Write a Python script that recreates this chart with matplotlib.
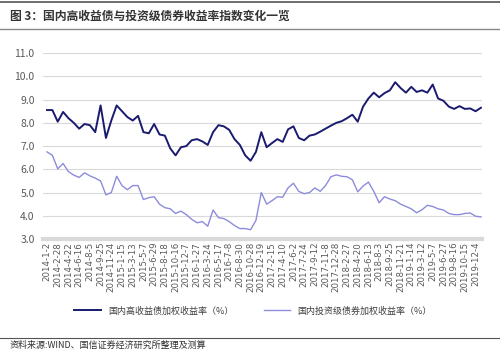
import matplotlib.pyplot as plt
import numpy as np

plt.rcParams['font.family'] = ['Noto Sans CJK SC', 'DejaVu Sans']

# tick labels, one every two samples
tick_labels = ['2014-1-2', '2014-2-28', '2014-4-22', '2014-6-16', '2014-8-5', '2014-9-25',
               '2014-11-24', '2015-1-15', '2015-3-13', '2015-5-7', '2015-6-29', '2015-8-18',
               '2015-10-16', '2015-12-7', '2016-1-27', '2016-3-24', '2016-5-17', '2016-7-8',
               '2016-8-30', '2016-10-28', '2016-12-19', '2017-2-15', '2017-4-10', '2017-6-2',
               '2017-7-24', '2017-9-12', '2017-11-8', '2017-12-28', '2018-2-27', '2018-4-20',
               '2018-6-13', '2018-8-3', '2018-9-25', '2018-11-21', '2019-1-14', '2019-3-12',
               '2019-5-7', '2019-6-27', '2019-8-16', '2019-10-15', '2019-12-4']

# 国内高收益债加权收益率 (%)
hy_yield = [8.55, 8.55, 8.05, 8.47, 8.2, 8.0, 7.75, 7.95, 7.9, 7.6,
            8.75, 7.35, 8.1, 8.75, 8.5, 8.25, 8.1, 8.3, 7.6, 7.55,
            7.95, 7.5, 7.45, 6.9, 6.6, 6.95, 7.0, 7.25, 7.3, 7.2,
            7.05, 7.6, 7.9, 7.85, 7.7, 7.3, 7.05, 6.6, 6.37, 6.75,
            7.6, 6.95, 7.13, 7.3, 7.18, 7.72, 7.85, 7.35, 7.25, 7.45,
            7.5, 7.62, 7.75, 7.88, 8.0, 8.07, 8.2, 8.35, 8.05, 8.7,
            9.05, 9.3, 9.1, 9.28, 9.4, 9.75, 9.5, 9.3, 9.55, 9.33,
            9.4, 9.3, 9.65, 9.05, 8.95, 8.7, 8.6, 8.72, 8.6, 8.62,
            8.5, 8.65]

# 国内投资级债券加权收益率 (%)
ig_yield = [6.75, 6.6, 6.02, 6.25, 5.9, 5.75, 5.65, 5.85, 5.72, 5.62,
            5.5, 4.9, 5.0, 5.7, 5.3, 5.12, 5.3, 5.3, 4.7, 4.78,
            4.82, 4.5, 4.35, 4.3, 4.1, 4.2, 4.05, 3.85, 3.7, 3.75,
            3.55, 4.25, 3.92, 3.88, 3.75, 3.58, 3.45, 3.45, 3.4, 3.8,
            5.0, 4.5, 4.65, 4.82, 4.8, 5.2, 5.4, 5.05, 4.95, 5.0,
            5.2, 5.05, 5.3, 5.68, 5.76, 5.7, 5.68, 5.55, 5.03, 5.28,
            5.45, 5.05, 4.56, 4.82, 4.72, 4.65, 4.5, 4.4, 4.3, 4.13,
            4.26, 4.45, 4.4, 4.3, 4.25, 4.1, 4.05, 4.05, 4.1, 4.12,
            3.98, 3.95]

x = np.arange(len(hy_yield))

fig = plt.figure(figsize=(5, 3.52), dpi=100)
ax = fig.add_axes([0.086, 0.321, 0.878, 0.528])

ax.plot(x, hy_yield, color='#1a1a6e', lw=1.4, label='国内高收益债加权收益率（%）')
ax.plot(x, ig_yield, color='#8c8cdc', lw=1.0, label='国内投资级债券加权收益率（%）')

ax.set_ylim(3, 11)
ax.set_yticks(np.arange(3, 11.1, 1))
ax.set_yticklabels([f'{v:.1f}' for v in np.arange(3, 11.1, 1)])
ax.set_xlim(-0.75, 81.2)
ax.set_xticks(x[::2])
ax.set_xticklabels(tick_labels, rotation=90, fontsize=6.2, color='#595959',
                   family=['DejaVu Sans'])
ax.tick_params(axis='y', labelsize=7.5, colors='#595959', length=0, pad=6)
ax.tick_params(axis='x', length=0, pad=2)

ax.grid(axis='y', color='#d9d9d9', lw=0.8)
ax.set_axisbelow(True)
for s in ['top', 'right', 'left']:
    ax.spines[s].set_visible(False)
ax.spines['bottom'].set_color('#d9d9d9')
ax.spines['bottom'].set_linewidth(3)

leg = fig.legend(loc='center', bbox_to_anchor=(0.506, 0.117), ncol=2, frameon=False,
                 fontsize=6.5, handlelength=2.9, columnspacing=3.4)
for t in leg.get_texts():
    t.set_color('#404040')

# title and source
fig.text(0.02, 0.955, '图 3：国内高收益债与投资级债券收益率指数变化一览', fontsize=8.5,
         fontweight='bold', color='#333333', va='center')
fig.add_artist(plt.Line2D([0.0, 1.0], [0.995, 0.995], color='#555555', lw=1.2))
fig.add_artist(plt.Line2D([0.0, 1.0], [0.918, 0.918], color='#888888', lw=1.0))
fig.add_artist(plt.Line2D([0.0, 1.0], [0.04, 0.04], color='#555555', lw=0.8))
fig.text(0.02, 0.02, '资料来源:WIND、国信证券经济研究所整理及测算', fontsize=6.5,
         color='#333333', va='center')

fig.savefig('out.png', dpi=100)
